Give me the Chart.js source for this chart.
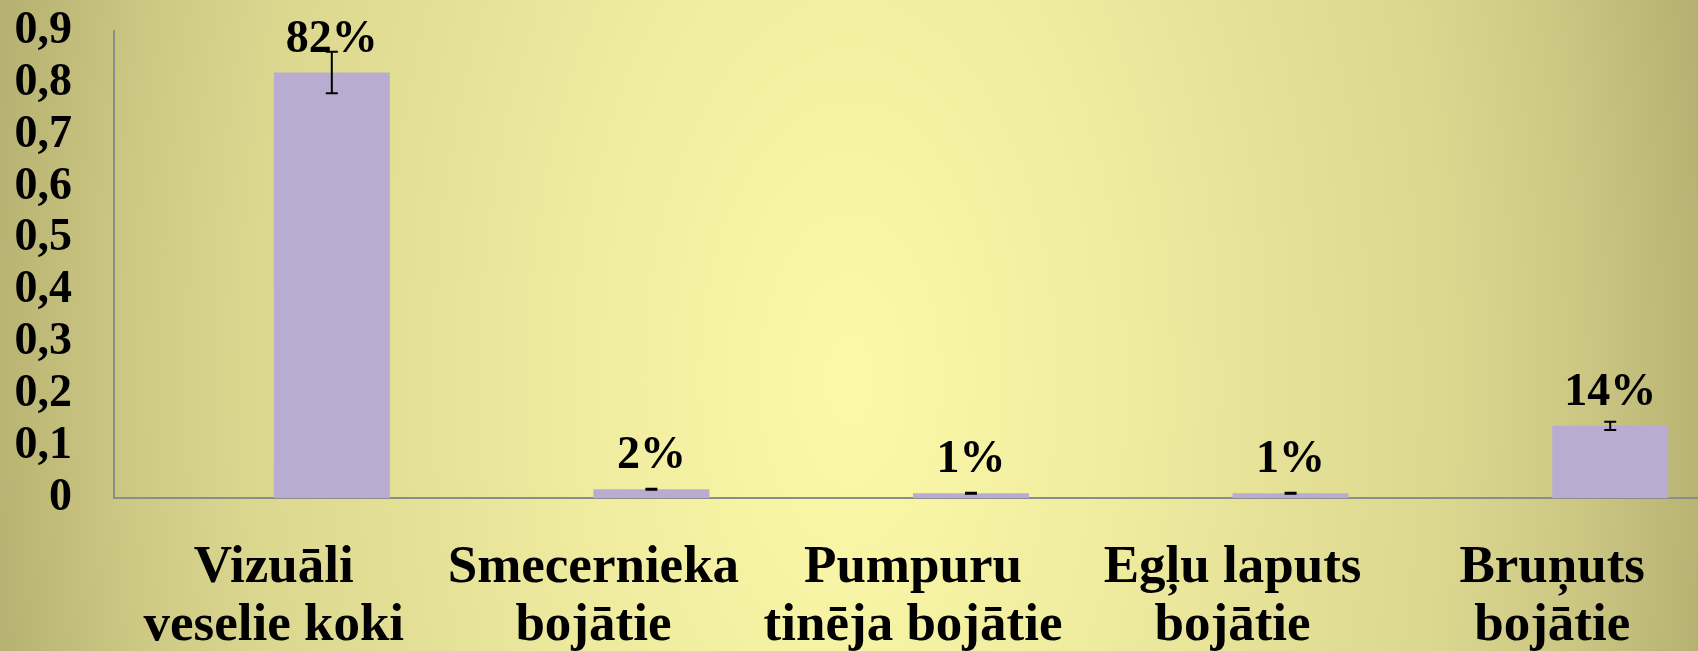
<!DOCTYPE html>
<html>
<head>
<meta charset="utf-8">
<script src="https://cdn.jsdelivr.net/npm/chart.js@4.4.1/dist/chart.umd.min.js"></script>
<style>
  html, body { margin: 0; padding: 0; overflow: hidden; }
  body {
    width: 1698px;
    height: 651px;
    background: radial-gradient(ellipse 860px 1600px at 850px 380px, #fcfaa9 0%, #f0eca0 30%, #e5e197 50%, #dbd78f 70%, #ccc783 85%, #b8b272 100%);
  }
  #wrap { width: 1712px; height: 651px; }
</style>
</head>
<body>
<div id="wrap"><canvas id="chart" width="1712" height="651"></canvas></div>
<script>
// categories (two-line labels, as on the slide)
const categories = [
  ['Vizuāli', 'veselie koki'],
  ['Smecernieka', 'bojātie'],
  ['Pumpuru', 'tinēja bojātie'],
  ['Egļu laputs', 'bojātie'],
  ['Bruņuts', 'bojātie']
];
const shares = [0.82, 0.017, 0.009, 0.009, 0.139];
const errors = [0.04, 0.001, 0.001, 0.001, 0.008];
const shareLabels = ['82%', '2%', '1%', '1%', '14%'];
const yTickLabels = ['0', '0,1', '0,2', '0,3', '0,4', '0,5', '0,6', '0,7', '0,8', '0,9'];

const serif = '"Liberation Serif", "Times New Roman", serif';

// error bars + percent labels over the bars
const errorBars = {
  id: 'errorBars',
  afterDatasetsDraw(chart) {
    const ctx = chart.ctx;
    const y = chart.scales.y;
    const meta = chart.getDatasetMeta(1);
    ctx.save();
    ctx.strokeStyle = '#000';
    ctx.lineWidth = 2;
    meta.data.forEach((bar, i) => {
      const top = y.getPixelForValue(shares[i] + errors[i]);
      const bottom = y.getPixelForValue(shares[i] - errors[i]);
      ctx.beginPath();
      ctx.moveTo(bar.x, top);
      ctx.lineTo(bar.x, bottom);
      ctx.moveTo(bar.x - 6, top);
      ctx.lineTo(bar.x + 6, top);
      ctx.moveTo(bar.x - 6, bottom);
      ctx.lineTo(bar.x + 6, bottom);
      ctx.stroke();
    });
    ctx.fillStyle = '#000';
    ctx.font = 'bold 46px ' + serif;
    ctx.textAlign = 'center';
    ctx.textBaseline = 'alphabetic';
    meta.data.forEach((bar, i) => {
      ctx.fillText(shareLabels[i], bar.x, bar.y - 21);
    });
    ctx.restore();
  }
};

new Chart(document.getElementById('chart'), {
  type: 'bar',
  data: {
    labels: categories,
    datasets: [
      {
        // empty first series, keeps the real bars right of centre
        label: '',
        data: categories.map(() => null),
        backgroundColor: 'rgba(0,0,0,0)',
        categoryPercentage: 0.726,
        barPercentage: 1
      },
      {
        label: 'Īpatsvars',
        data: shares,
        backgroundColor: '#b8add0',
        categoryPercentage: 0.726,
        barPercentage: 1
      }
    ]
  },
  options: {
    responsive: false,
    animation: false,
    layout: { padding: { top: 31, left: 0, right: 0, bottom: 0 } },
    plugins: {
      legend: { display: false },
      tooltip: { enabled: false }
    },
    scales: {
      x: {
        grid: { display: false, drawTicks: false },
        border: { display: true, color: '#8c8c8c', width: 2 },
        ticks: {
          color: '#000',
          font: { family: serif, size: 53, weight: 'bold', lineHeight: 1.1 },
          padding: 41,
          maxRotation: 0,
          autoSkip: false
        },
        afterFit: s => { s.height = 153; }
      },
      y: {
        min: 0,
        max: 0.9,
        grid: { display: false, drawTicks: false },
        border: { display: true, color: '#8c8c8c', width: 2 },
        ticks: {
          stepSize: 0.1,
          autoSkip: false,
          color: '#000',
          font: { family: serif, size: 46, weight: 'bold' },
          padding: 42,
          callback: (v, i) => yTickLabels[i]
        },
        // tick padding would otherwise push the plot top down
        afterFit: s => { s.width = 114; s.paddingTop = 28; s.paddingBottom = 28; }
      }
    }
  },
  plugins: [errorBars]
});
</script>
</body>
</html>
